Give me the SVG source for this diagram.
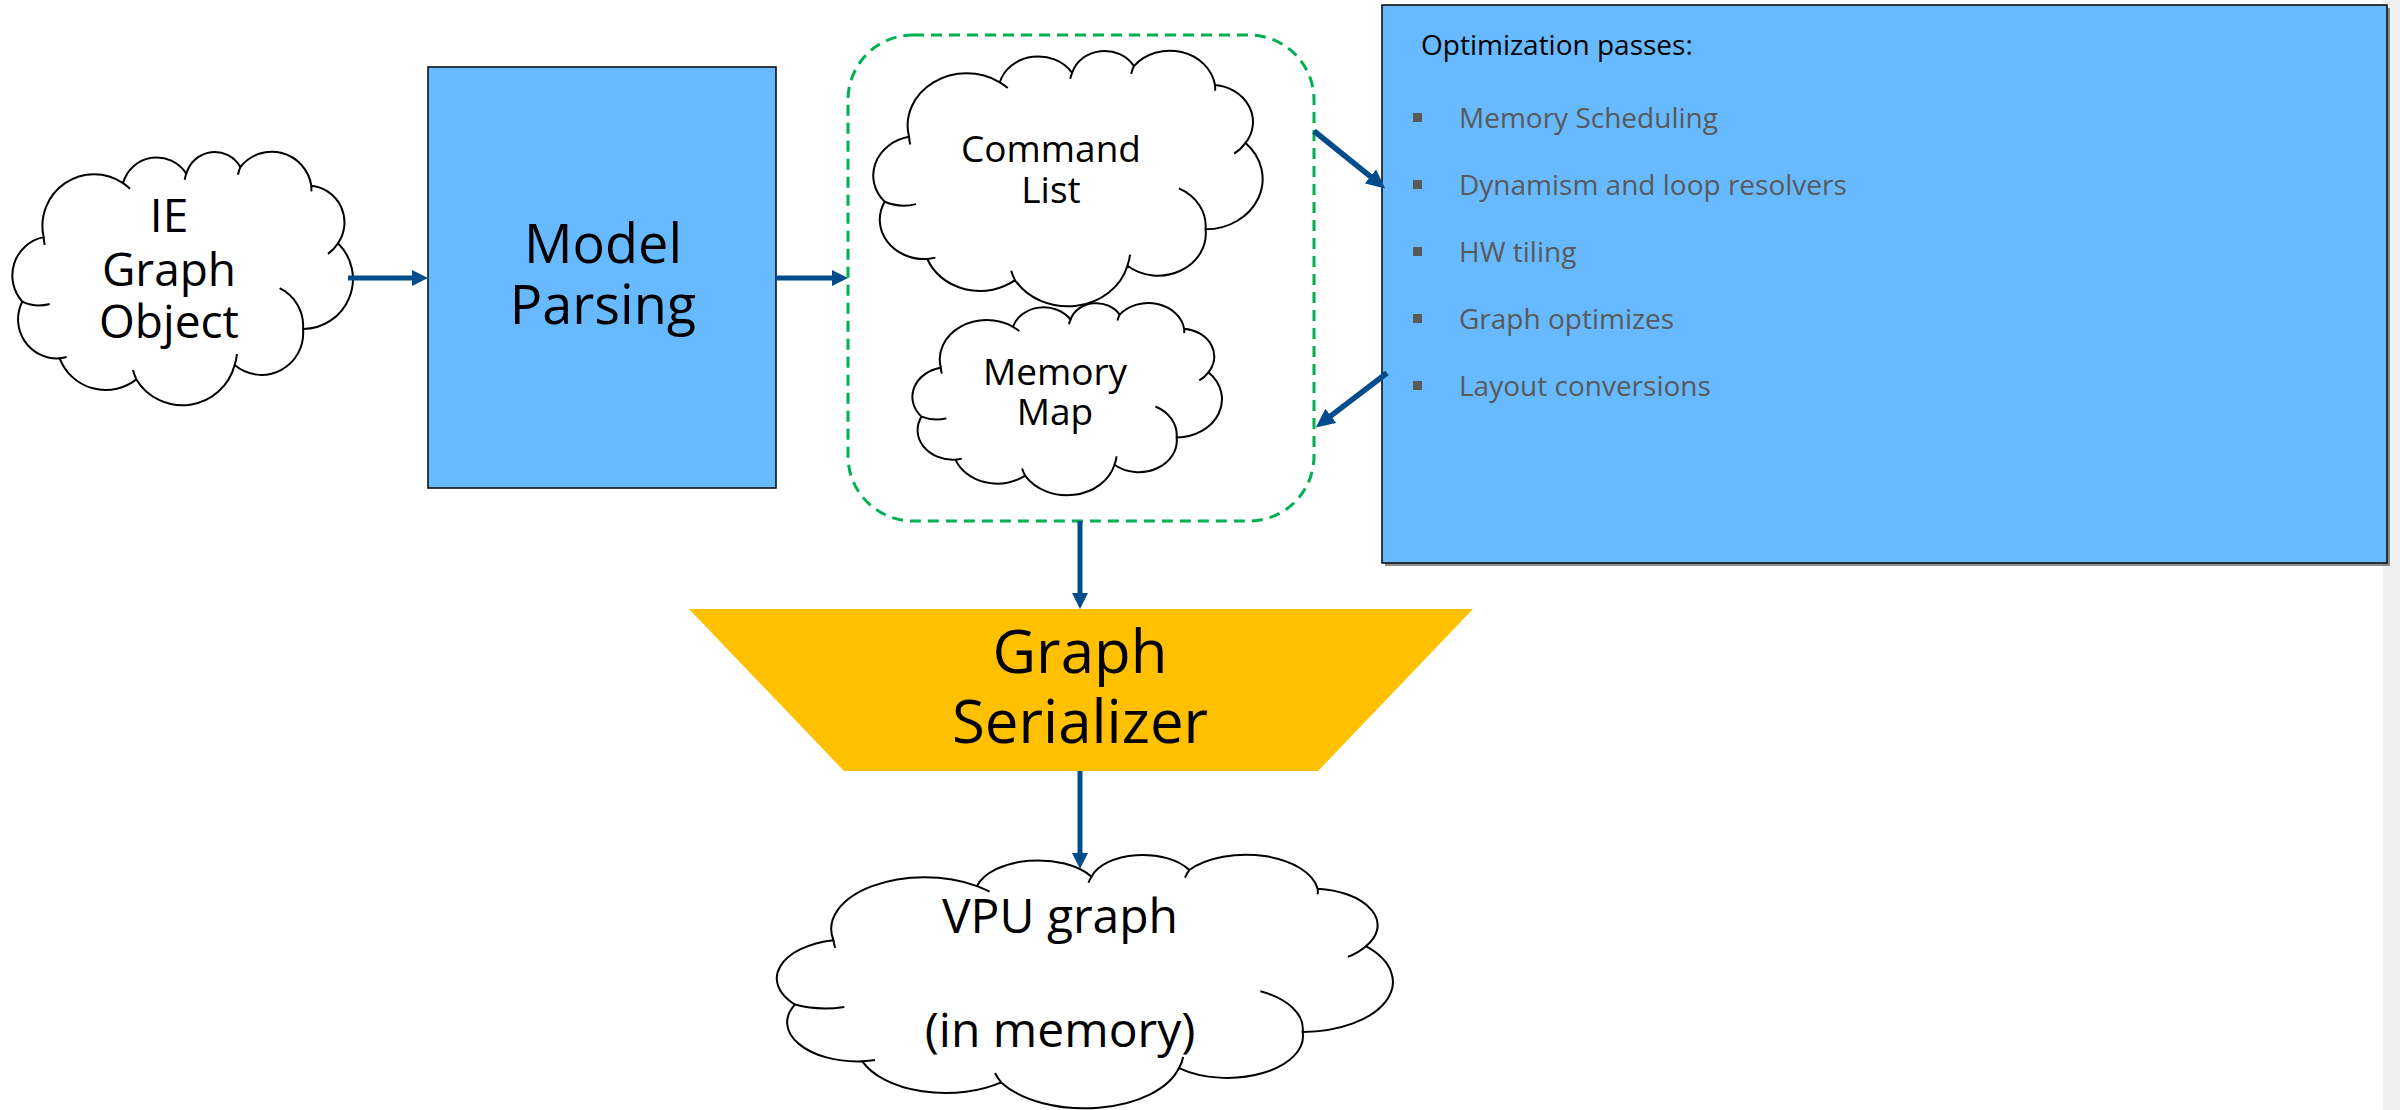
<svg xmlns="http://www.w3.org/2000/svg" xmlns:xlink="http://www.w3.org/1999/xlink" width="2400" height="1110" viewBox="0 0 2400 1110">
  <style>
    .lbl { font-family: "Open Sans", "Noto Sans", "DejaVu Sans", sans-serif; fill: #000; text-anchor: middle; }
    .cloud-body { fill: #fff; stroke: #000; stroke-width: 2; vector-effect: non-scaling-stroke; stroke-linejoin: round; }
    .cloud-hook { fill: none; stroke: #000; stroke-width: 2; vector-effect: non-scaling-stroke; }
    .box { fill: #67BAFF; stroke: #111; stroke-width: 1.6; }
    .conn { fill: none; stroke: #004C8C; stroke-width: 5; }
    .conn-bold { fill: none; stroke: #004C8C; stroke-width: 5.5; }
    .pass { font-family: "Open Sans", "Noto Sans", "DejaVu Sans", sans-serif; font-size: 28px; fill: #595959; }
    .bullet { fill: #595959; }
  </style>
  <defs>
    <!-- cloud outline in a 100 x 100 unit box, scaled per node -->
    <g id="cloud">
      <path class="cloud-body" d="M9.15,33.39 A15.42,20.54 0 0 1 32.84,11.93 A10.45,13.91 0 0 1 51.74,8.22 A8.76,11.66 0 0 1 67.86,5.57 A11.94,15.9 0 0 1 89.05,12.99 A10.95,14.58 0 0 1 97.01,35.78 A14.93,19.88 0 0 1 86.57,69.83 A12.44,16.56 0 0 1 66.17,84.14 A16.12,21.47 0 0 1 36.82,89.84 A14.73,19.61 0 0 1 13.93,81.49 A11.64,15.5 0 0 1 2.79,58.96 A11.64,15.5 0 0 1 9.15,33.39 Z"/>
      <path class="cloud-hook" d="M9.15,33.39 A15.42,20.54 0 0 0 9.45,36.44 M32.84,11.93 A15.42,20.54 0 0 1 34.92,14.18 M51.74,8.22 A8.76,11.66 0 0 0 51.24,10.6 M67.86,5.57 A11.94,15.9 0 0 0 67.16,8.61 M89.05,12.99 A11.94,15.9 0 0 1 89.05,15.24 M97.01,35.78 A10.95,14.58 0 0 1 94.03,40.02 M86.57,69.83 A12.44,16.56 0 0 0 79.6,53.66 M66.17,84.14 A16.12,21.47 0 0 0 66.86,79.77 M36.82,89.84 A16.12,21.47 0 0 1 35.82,86.13 M13.93,81.49 A11.64,15.5 0 0 0 16.02,80.96 M2.79,58.96 A11.64,15.5 0 0 0 10.95,59.89"/>
    </g>
    <marker id="head" viewBox="0 0 16 16" refX="4" refY="8" markerWidth="16" markerHeight="16" markerUnits="userSpaceOnUse" orient="auto">
      <path d="M0,0 L16,8 L0,16 Z" fill="#004C8C"/>
    </marker>
    <marker id="head-lg" viewBox="0 0 19 18" refX="5" refY="9" markerWidth="19" markerHeight="18" markerUnits="userSpaceOnUse" orient="auto">
      <path d="M0,0 L19,9 L0,18 Z" fill="#004C8C"/>
    </marker>
  </defs>

  <rect x="0" y="0" width="2400" height="1110" fill="#fff"/>
  <!-- right margin strip -->
  <rect x="2383" y="0" width="17" height="1110" fill="#F0F0F0"/>

  <g id="ie-graph-object">
    <use xlink:href="#cloud" href="#cloud" transform="translate(13,153) scale(3.35,2.52)"/>
    <text class="lbl" font-size="46"><tspan x="169" y="232">IE</tspan><tspan x="169" y="286">Graph</tspan><tspan x="169" y="338">Object</tspan></text>
  </g>

  <g id="model-parsing">
    <rect class="box" x="428" y="67" width="348" height="421"/>
    <text class="lbl" font-size="54"><tspan x="603" y="263">Model</tspan><tspan x="603" y="324">Parsing</tspan></text>
  </g>

  <g id="ir-group">
    <rect x="848" y="35" width="466" height="486" rx="65" ry="65" fill="none" stroke="#00B050" stroke-width="3" stroke-dasharray="11 7"/>
  </g>

  <g id="command-list">
    <use xlink:href="#cloud" href="#cloud" transform="translate(874,52) scale(3.83,2.54)"/>
    <text class="lbl" font-size="37"><tspan x="1051" y="162">Command</tspan><tspan x="1051" y="203">List</tspan></text>
  </g>

  <g id="memory-map">
    <use xlink:href="#cloud" href="#cloud" transform="translate(913,304) scale(3.045,1.91)"/>
    <text class="lbl" font-size="37"><tspan x="1055" y="385">Memory</tspan><tspan x="1055" y="425">Map</tspan></text>
  </g>

  <g id="optimization-passes">
    <rect x="1385" y="8" width="1005" height="558" fill="#333" opacity="0.55"/>
    <rect class="box" x="1382" y="5" width="1005" height="558" stroke-width="2"/>
    <text x="1421" y="55" font-family="'Open Sans', 'Noto Sans', sans-serif" font-size="28" fill="#000">Optimization passes:</text>
    <rect class="bullet" x="1413" y="113" width="9" height="9"/>
    <text class="pass" x="1459" y="128">Memory Scheduling</text>
    <rect class="bullet" x="1413" y="180" width="9" height="9"/>
    <text class="pass" x="1459" y="195">Dynamism and loop resolvers</text>
    <rect class="bullet" x="1413" y="247" width="9" height="9"/>
    <text class="pass" x="1459" y="262">HW tiling</text>
    <rect class="bullet" x="1413" y="314" width="9" height="9"/>
    <text class="pass" x="1459" y="329">Graph optimizes</text>
    <rect class="bullet" x="1413" y="381" width="9" height="9"/>
    <text class="pass" x="1459" y="396">Layout conversions</text>
  </g>

  <g id="graph-serializer">
    <polygon points="689,609 1473,609 1318,771 844,771" fill="#FFC000"/>
    <text class="lbl" font-size="60"><tspan x="1080" y="673">Graph</tspan><tspan x="1080" y="743">Serializer</tspan></text>
  </g>

  <g id="vpu-graph">
    <use xlink:href="#cloud" href="#cloud" transform="translate(778,856) scale(6.06,2.52)"/>
    <text class="lbl" font-size="48"><tspan x="1060" y="933">VPU graph</tspan><tspan x="1060" y="1047">(in memory)</tspan></text>
  </g>

  <g id="connectors">
    <path class="conn" d="M348,278 L416,278" marker-end="url(#head)"/>
    <path class="conn" d="M776,278 L836,278" marker-end="url(#head)"/>
    <path class="conn-bold" d="M1314,131 L1374.3,179.6" marker-end="url(#head-lg)"/>
    <path class="conn-bold" d="M1387,373 L1326.9,418.9" marker-end="url(#head-lg)"/>
    <path class="conn" d="M1080,521 L1080,597" marker-end="url(#head)"/>
    <path class="conn" d="M1080,771 L1080,857" marker-end="url(#head)"/>
  </g>
</svg>
